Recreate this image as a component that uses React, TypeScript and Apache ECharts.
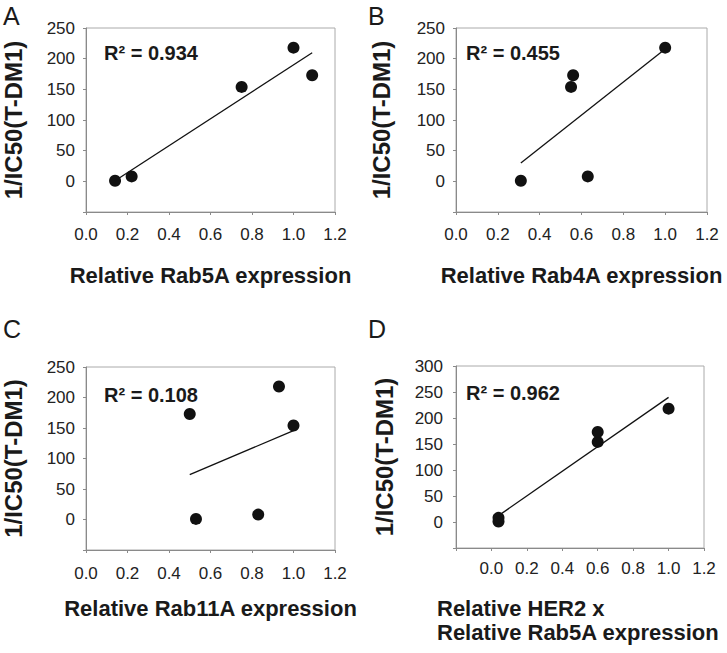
import React, { useEffect, useRef } from 'react';
import * as echarts from 'echarts';

// 1/IC50(T-DM1) of the five cell lines, same order in every panel
const invIC50 = [1, 8, 154, 218, 173];

// relative expression of the same five cell lines
const rab5aExpr = [0.14, 0.22, 0.75, 1.0, 1.09];
const rab4aExpr = [0.31, 0.63, 0.55, 1.0, 0.56];
const rab11aExpr = [0.53, 0.83, 1.0, 0.93, 0.5];
const her2Rab5aExpr = [0.04, 0.04, 0.6, 1.0, 0.6];

const panelLetters = ['A', 'B', 'C', 'D'];
const r2Values = ['0.934', '0.455', '0.108', '0.962'];
const xTitles = [
  'Relative Rab5A expression',
  'Relative Rab4A expression',
  'Relative Rab11A expression',
  'Relative HER2 x\nRelative Rab5A expression',
];
const yTitle = '1/IC50(T-DM1)';

const FONT = '"Liberation Sans", Arial, Helvetica, sans-serif';

// layout of each panel (px in the 727x653 page)
const panels = [
  { xs: rab5aExpr, grid: { left: 83, top: 28, width: 252, height: 184 }, xMin: 0, yMax: 250, xLabelMargin: 14, yLabelMargin: 11, xNameGap: 52, yNameGap: 61, letter: [3, 3], r2: [104, 43] },
  { xs: rab4aExpr, grid: { left: 456, top: 28, width: 251, height: 184 }, xMin: 0, yMax: 250, xLabelMargin: 14, yLabelMargin: 11, xNameGap: 52, yNameGap: 63, letter: [368, 3], r2: [466, 43] },
  { xs: rab11aExpr, grid: { left: 83, top: 367, width: 252, height: 183 }, xMin: 0, yMax: 250, xLabelMargin: 15, yLabelMargin: 11, xNameGap: 47, yNameGap: 61, letter: [3, 316], r2: [104, 385] },
  { xs: her2Rab5aExpr, grid: { left: 456, top: 366, width: 248, height: 182 }, xMin: -0.2, yMax: 300, xLabelMargin: 12, yLabelMargin: 13, xNameGap: 47, yNameGap: 60, letter: [368, 316], r2: [466, 383] },
];

// least-squares trend line, from smallest to largest x
function trend(xs: number[], ys: number[]) {
  const n = xs.length;
  const mx = xs.reduce((a, b) => a + b, 0) / n;
  const my = ys.reduce((a, b) => a + b, 0) / n;
  let sxy = 0;
  let sxx = 0;
  xs.forEach((x, i) => {
    sxy += (x - mx) * (ys[i] - my);
    sxx += (x - mx) * (x - mx);
  });
  const slope = sxy / sxx;
  const icpt = my - slope * mx;
  const lo = Math.min(...xs);
  const hi = Math.max(...xs);
  return [[lo, icpt + slope * lo], [hi, icpt + slope * hi]];
}

const App: React.FC = () => {
  const chartRef = useRef<HTMLDivElement>(null);

  useEffect(() => {
    if (!chartRef.current) return;
    const chart = echarts.init(chartRef.current, null, { renderer: 'svg' });

    const axisColor = '#8a8a8a';
    const graphic: any[] = [];

    panels.forEach((p, i) => {
      graphic.push({
        type: 'text',
        left: p.letter[0],
        top: p.letter[1],
        style: { text: panelLetters[i], font: `normal 25px ${FONT}`, fill: '#1a1a1a' },
      });
      graphic.push({
        type: 'text',
        left: p.r2[0],
        top: p.r2[1],
        style: { text: `R² = ${r2Values[i]}`, font: `bold 20px ${FONT}`, fill: '#1a1a1a' },
      });
    });

    // two-line, left aligned x title of panel D
    graphic.push({
      type: 'text',
      left: 437,
      top: 596,
      style: { text: xTitles[3], font: `bold 22px ${FONT}`, fill: '#1a1a1a', lineHeight: 24 },
    });

    const option = {
      animation: false,
      backgroundColor: '#fff',
      textStyle: { fontFamily: FONT },
      grid: panels.map((p) => ({
        ...p.grid,
        show: true,
        borderColor: '#aaaaaa',
        borderWidth: 1,
        containLabel: false,
      })),
      xAxis: panels.map((p, i) => ({
        gridIndex: i,
        type: 'value',
        min: p.xMin,
        max: 1.2,
        interval: 0.2,
        splitLine: { show: false },
        axisLine: { show: true, onZero: false, lineStyle: { color: axisColor } },
        axisTick: { show: true, length: 3, lineStyle: { color: axisColor } },
        axisLabel: {
          margin: p.xLabelMargin,
          fontSize: 17,
          color: '#222',
          fontFamily: FONT,
          formatter: (v: number) => (v < -1e-9 ? '' : v.toFixed(1)),
        },
        name: i === 3 ? '' : xTitles[i],
        nameLocation: 'middle',
        nameGap: p.xNameGap,
        nameTextStyle: { fontSize: 22, fontWeight: 'bold', color: '#1a1a1a', fontFamily: FONT },
      })),
      yAxis: panels.map((p, i) => ({
        gridIndex: i,
        type: 'value',
        min: -50,
        max: p.yMax,
        interval: 50,
        splitLine: { show: false },
        axisLine: { show: true, onZero: false, lineStyle: { color: axisColor } },
        axisTick: { show: true, length: 3, lineStyle: { color: axisColor } },
        axisLabel: {
          margin: p.yLabelMargin,
          fontSize: 17,
          color: '#222',
          fontFamily: FONT,
          formatter: (v: number) => (v < 0 ? '' : String(v)),
        },
        name: yTitle,
        nameLocation: 'middle',
        nameRotate: 90,
        nameGap: p.yNameGap,
        nameTextStyle: { fontSize: 24, fontWeight: 'bold', color: '#1a1a1a', fontFamily: FONT },
      })),
      series: panels.flatMap((p, i) => [
        {
          type: 'line',
          xAxisIndex: i,
          yAxisIndex: i,
          data: trend(p.xs, invIC50),
          showSymbol: false,
          symbol: 'none',
          lineStyle: { color: '#111', width: 1.3 },
          silent: true,
        },
        {
          type: 'scatter',
          xAxisIndex: i,
          yAxisIndex: i,
          data: p.xs.map((x, k) => [x, invIC50[k]]),
          symbolSize: 12,
          itemStyle: { color: '#111', opacity: 1 },
        },
      ]),
      graphic,
    };

    chart.setOption(option);

    return () => {
      chart.dispose();
    };
  }, []);

  return (
    <div
      ref={chartRef}
      style={{ position: 'fixed', left: 0, top: 0, width: '727px', height: '653px' }}
    />
  );
};

export default App;
